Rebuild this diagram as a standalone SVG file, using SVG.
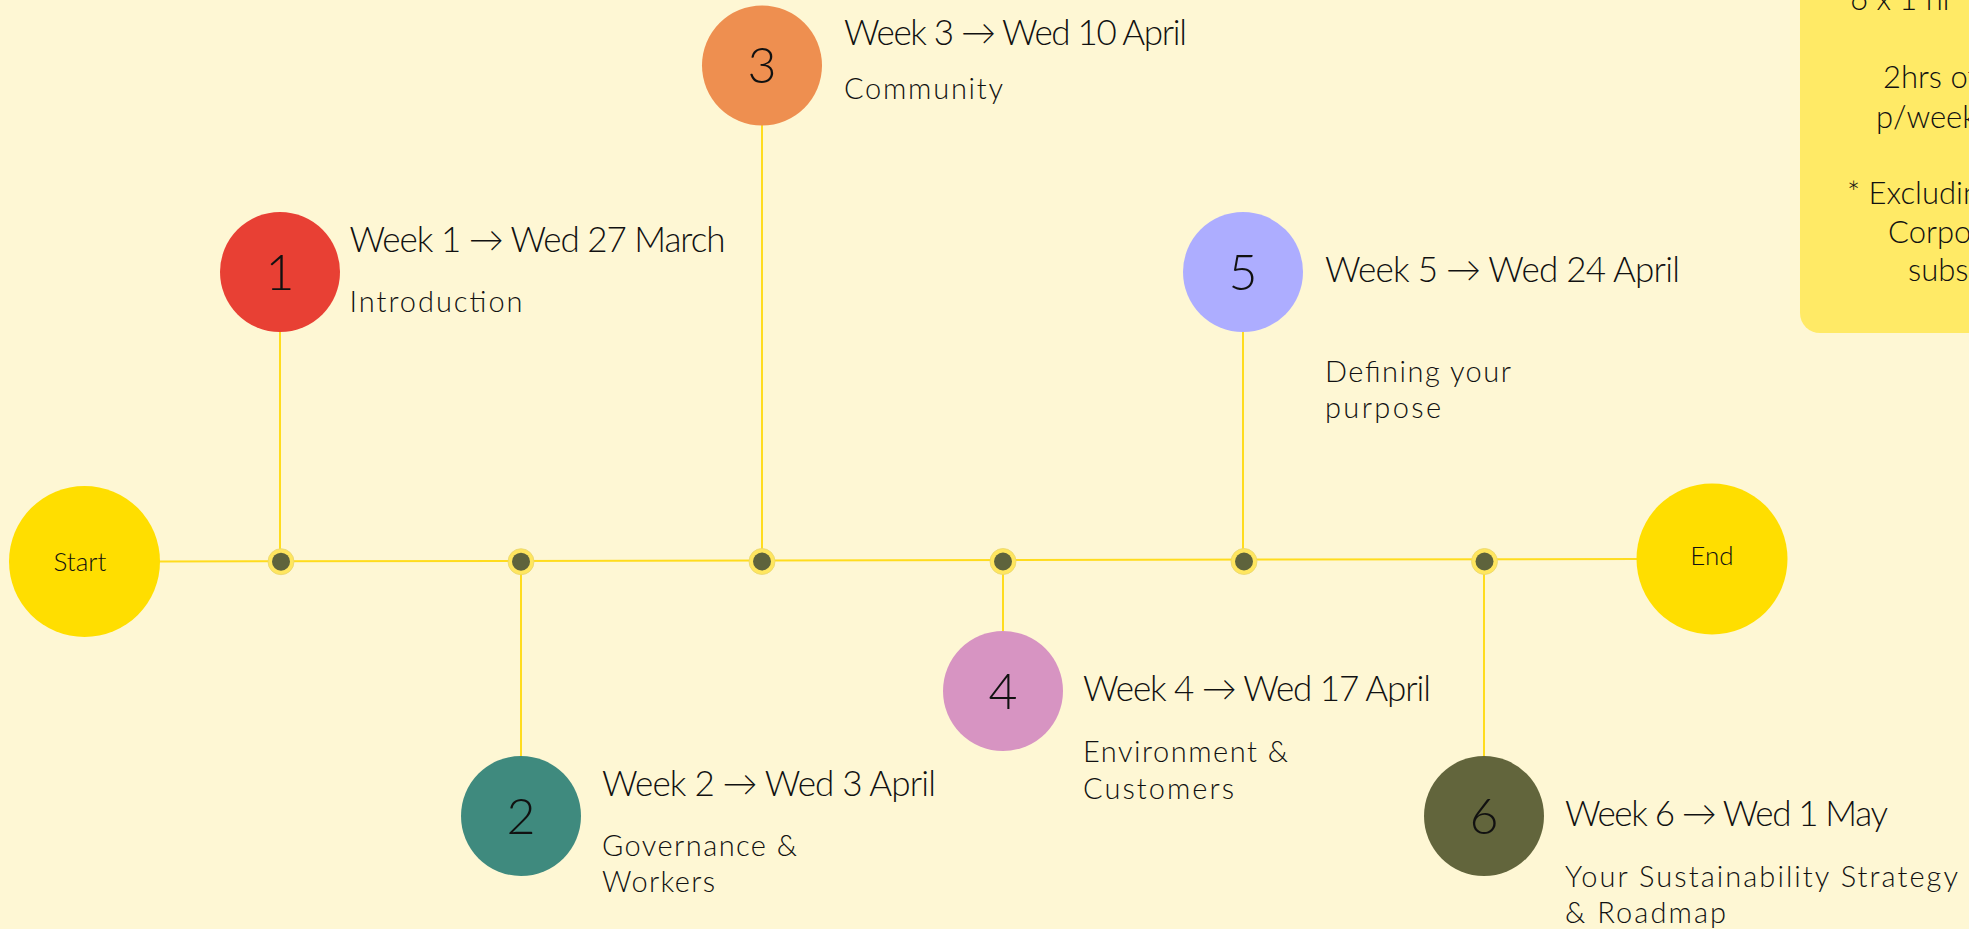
<svg xmlns="http://www.w3.org/2000/svg" width="1969" height="929" viewBox="0 0 1969 929">
<style>
text{font-family:"Lato","Noto Sans","Liberation Sans",sans-serif;fill:#111;font-weight:300}
.num{font-size:50px;text-anchor:middle}
.title{font-size:35px}
.sub{font-size:29px}
.se{font-size:26px;text-anchor:middle}
.note{font-size:31px}
.conn{stroke:#FFDC1E;stroke-width:2;fill:none}
.ring{fill:#FFE65E;stroke:#E8D56E;stroke-width:0.8}
.dot{fill:#5E633C}
</style>
<rect x="0" y="0" width="1969" height="929" fill="#FEF7D4"/>
<g id="connectors">
<line class="conn" x1="160" y1="561.5" x2="1637" y2="559"/>
<line class="conn" x1="280" y1="332" x2="280" y2="562"/>
<line class="conn" x1="521" y1="562" x2="521" y2="756"/>
<line class="conn" x1="762" y1="125" x2="762" y2="561"/>
<line class="conn" x1="1003" y1="561" x2="1003" y2="631"/>
<line class="conn" x1="1243" y1="332" x2="1243" y2="561"/>
<line class="conn" x1="1484" y1="561" x2="1484" y2="756"/>
</g>
<g id="dots">
<circle class="ring" cx="281" cy="561.7" r="13"/><circle class="dot" cx="281" cy="561.7" r="9"/>
<circle class="ring" cx="521" cy="561.7" r="13"/><circle class="dot" cx="521" cy="561.7" r="9"/>
<circle class="ring" cx="762" cy="561.5" r="13"/><circle class="dot" cx="762" cy="561.5" r="9"/>
<circle class="ring" cx="1003" cy="561.5" r="13"/><circle class="dot" cx="1003" cy="561.5" r="9"/>
<circle class="ring" cx="1244" cy="561.5" r="13"/><circle class="dot" cx="1244" cy="561.5" r="9"/>
<circle class="ring" cx="1484.5" cy="561.5" r="13"/><circle class="dot" cx="1484.5" cy="561.5" r="9"/>
</g>
<g id="start">
<circle cx="84.5" cy="561.5" r="75.5" fill="#FFDE00"/>
<text class="se" x="80" y="571">Start</text>
</g>
<g id="end">
<circle cx="1712" cy="559" r="75.5" fill="#FFDE00"/>
<text class="se" x="1712" y="565">End</text>
</g>
<g id="week1">
<circle cx="280" cy="272" r="60" fill="#E84034"/>
<text class="num" x="280" y="290">1</text>
<text class="title" x="349.5" y="252" textLength="376">Week 1 → Wed 27 March</text>
<text class="sub" x="349.5" y="312" textLength="173">Introduction</text>
</g>
<g id="week2">
<circle cx="521" cy="816" r="60" fill="#3F8A7E"/>
<text class="num" x="521" y="834">2</text>
<text class="title" x="602" y="796" textLength="334">Week 2 → Wed 3 April</text>
<text class="sub" x="602" y="856" textLength="195">Governance &amp;</text>
<text class="sub" x="602" y="892" textLength="113">Workers</text>
</g>
<g id="week3">
<circle cx="762" cy="65.5" r="60" fill="#EE8F50"/>
<text class="num" x="762" y="83">3</text>
<text class="title" x="844" y="45" textLength="343">Week 3 → Wed 10 April</text>
<text class="sub" x="844" y="99" textLength="159">Community</text>
</g>
<g id="week4">
<circle cx="1003" cy="691" r="60" fill="#D794C2"/>
<text class="num" x="1003" y="709">4</text>
<text class="title" x="1083" y="701" textLength="348">Week 4 → Wed 17 April</text>
<text class="sub" x="1083" y="762" textLength="205">Environment &amp;</text>
<text class="sub" x="1083" y="799" textLength="151">Customers</text>
</g>
<g id="week5">
<circle cx="1243" cy="272" r="60" fill="#ADADFF"/>
<text class="num" x="1243" y="290">5</text>
<text class="title" x="1325" y="282" textLength="355">Week 5 → Wed 24 April</text>
<text class="sub" x="1325" y="382" textLength="186">Defining your</text>
<text class="sub" x="1325" y="418" textLength="116">purpose</text>
</g>
<g id="week6">
<circle cx="1484" cy="816" r="60" fill="#62653C"/>
<text class="num" x="1484" y="834">6</text>
<text class="title" x="1565" y="826" textLength="323">Week 6 → Wed 1 May</text>
<text class="sub" x="1565" y="887" textLength="393">Your Sustainability Strategy</text>
<text class="sub" x="1565" y="923" textLength="161">&amp; Roadmap</text>
</g>
<g id="note">
<rect x="1800" y="-40" width="420" height="373" rx="20" fill="#FFEA66"/>
<text class="note" x="1850" y="10">6 x 1 hr</text>
<text class="note" x="1883" y="88">2hrs of work</text>
<text class="note" x="1876" y="128">p/week</text>
<text class="note" x="1847" y="204">* Excluding</text>
<text class="note" x="1888" y="243">Corporate</text>
<text class="note" x="1908" y="281">subscription</text>
</g>
</svg>
